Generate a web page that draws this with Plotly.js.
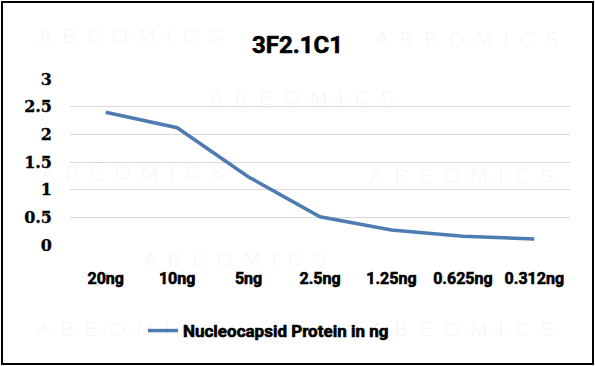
<!DOCTYPE html>
<html>
<head>
<meta charset="utf-8">
<script src="https://cdn.plot.ly/plotly-3.0.1.min.js"></script>
<style>
html,body{margin:0;padding:0;background:#fff;}
#chart{width:595px;height:366px;}
#chart .xtick text, #chart .gtitle, #chart .legendtext {
  stroke: #000; stroke-width: 0.6px; paint-order: stroke;
}
#chart .ytick text { stroke: #000; stroke-width: 0.3px; paint-order: stroke; }
</style>
</head>
<body>
<div id="chart"></div>
<script>
const categories = ["20ng","10ng","5ng","2.5ng","1.25ng","0.625ng","0.312ng"];
const values = [2.40, 2.12, 1.23, 0.51, 0.27, 0.16, 0.11];
const yTicks = [0, 0.5, 1, 1.5, 2, 2.5, 3];
const seriesName = "Nucleocapsid Protein in ng";
const chartTitle = "3F2.1C1";
const watermark = ["A","B","E","O","M","I","C","S"].join("\u2002");
const watermarkSpots = [[130,35],[467,38],[302,97],[133,172],[462,175],[235,258],[128,328],[462,328]];

const PL = 70, PT = 79, PW = 500, PH = 166;
const annotations = watermarkSpots.map(p => ({
  text: watermark, xref: "paper", yref: "paper",
  x: (p[0]-PL)/PW, y: (PT + PH - p[1])/PH,
  showarrow: false, xanchor: "center", yanchor: "middle",
  font: {family: "Liberation Sans", size: 21, color: "rgba(0,0,0,0.04)"}
}));

const trace = {
  x: categories, y: values, type: "scatter", mode: "lines",
  name: "<b>" + seriesName + "</b>",
  line: {color: "#4F7CB0", width: 3.5}
};

const SANS = "Roboto";
const layout = {
  width: 595, height: 366,
  margin: {l: PL, r: 595-PL-PW, t: PT, b: 366-PT-PH},
  paper_bgcolor: "#fff", plot_bgcolor: "#fff",
  title: {text: "<b>" + chartTitle + "</b>", x: 0.5, xref: "container", xanchor: "center", y: 1 - 45/366, yanchor: "middle",
    font: {family: SANS, size: 24, color: "#000"}},
  xaxis: {type: "category", range: [-0.5, 6.5], showgrid: false, zeroline: false, showline: false, ticks: "",
    tickvals: categories, ticktext: categories.map(c => "<b>" + c + "</b>"),
    tickfont: {family: SANS, size: 16, color: "#000"},
    ticklabelstandoff: 22, fixedrange: true},
  yaxis: {range: [0, 3], tickvals: yTicks, ticktext: yTicks.map(v => "<b>" + v + "</b>"),
    showgrid: true, gridcolor: "#d9d9d9", gridwidth: 1, zeroline: false, showline: false, ticks: "",
    tickfont: {family: "DejaVu Serif", size: 16, color: "#000"},
    ticklabelstandoff: 17, fixedrange: true},
  showlegend: true,
  legend: {orientation: "h", x: 0.146, xanchor: "left", y: (PT+PH-331)/PH, yanchor: "middle",
    font: {family: SANS, size: 17, color: "#000"}},
  annotations: annotations,
  shapes: [{type: "rect", xref: "paper", yref: "paper",
    x0: (2-PL)/PW, x1: (593-PL)/PW, y0: (PT+PH-364)/PH, y1: (PT+PH-2)/PH,
    line: {color: "#000", width: 2}, fillcolor: "rgba(0,0,0,0)"}]
};

Plotly.newPlot("chart", [trace], layout, {displayModeBar: false, staticPlot: true});
</script>
</body>
</html>
